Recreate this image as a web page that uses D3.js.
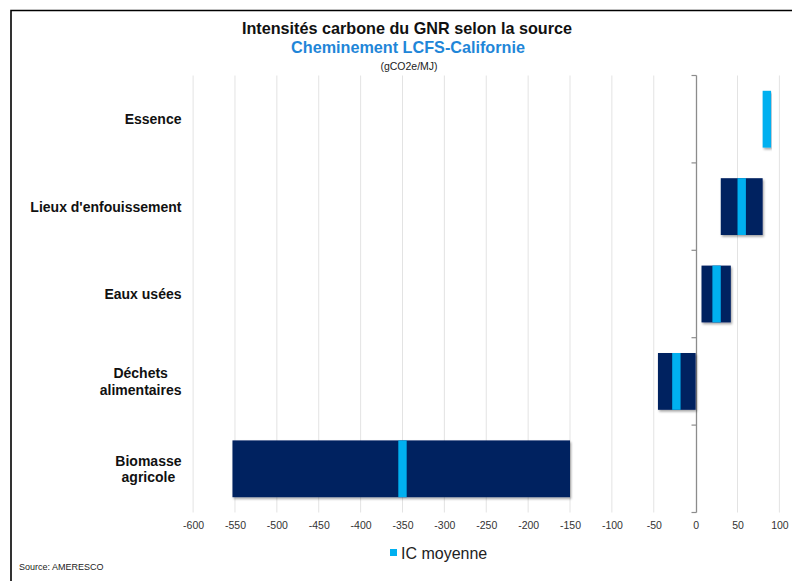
<!DOCTYPE html>
<html>
<head>
<meta charset="utf-8">
<script src="https://cdn.jsdelivr.net/npm/d3@7/dist/d3.min.js"></script>
<style>
  html, body { margin: 0; padding: 0; background: #fff; }
  svg { display: block; font-family: "Liberation Sans", Arial, sans-serif; }
</style>
</head>
<body>
<svg id="chart" width="792" height="581"></svg>
<script>
// Carbon intensity of RNG by feedstock (gCO2e/MJ)
const categories = ["Essence", "Lieux d'enfouissement", "Eaux usées", "Déchets alimentaires", "Biomasse agricole"];
const labelLines = [["Essence"], ["Lieux d'enfouissement"], ["Eaux usées"], ["Déchets", "alimentaires"], ["Biomasse", "agricole"]];
const minValues  = [85, 30, 7, -45, -553];
const maxValues  = [85, 80, 42, 0, -150];
const meanValues = [85, 55, 25, -23, -350];
const xTicks = [-600, -550, -500, -450, -400, -350, -300, -250, -200, -150, -100, -50, 0, 50, 100];
const meanHalfWidth = 5; // mean marker drawn as a 10-unit segment

const DARK = "#002060", LIGHT = "#00B0F0";

const svg = d3.select("#chart");

// Frame
svg.append("path")
  .attr("d", "M11,581 V10.5 H792")
  .attr("fill", "none").attr("stroke", "#000").attr("stroke-width", 1.6);

const defs = svg.append("defs");
const f = defs.append("filter").attr("id", "shadow")
  .attr("x", "-5%").attr("y", "-10%").attr("width", "115%").attr("height", "130%");
f.append("feDropShadow").attr("dx", 1.2).attr("dy", 1.8).attr("stdDeviation", 1)
  .attr("flood-color", "#000").attr("flood-opacity", 0.35);

// Titles
svg.append("text").attr("x", 407).attr("y", 34).attr("text-anchor", "middle")
  .attr("font-size", 16.2).attr("font-weight", "bold").attr("fill", "#111")
  .text("Intensités carbone du GNR selon la source");
svg.append("text").attr("x", 408).attr("y", 52.5).attr("text-anchor", "middle")
  .attr("font-size", 16.2).attr("font-weight", "bold").attr("fill", "#1F86D8")
  .text("Cheminement LCFS-Californie");
svg.append("text").attr("x", 409).attr("y", 69.5).attr("text-anchor", "middle")
  .attr("font-size", 10.5).attr("fill", "#222")
  .text("(gCO2e/MJ)");

// Scales
const x = d3.scaleLinear().domain([-600, 100]).range([193.1, 779.4]);
const y = d3.scaleBand().domain(categories).range([75.5, 512.5])
  .paddingInner(0.35).paddingOuter(0.175);

const plotTop = 75.5, plotBottom = 512.5;

// Vertical gridlines
svg.append("g").selectAll("line")
  .data(xTicks.filter(t => t !== 0))
  .join("line")
  .attr("x1", d => x(d)).attr("x2", d => x(d))
  .attr("y1", plotTop).attr("y2", plotBottom)
  .attr("stroke", "#e3e3e3").attr("stroke-width", 1);

// X tick labels (plain hyphen for negatives)
const xAxis = d3.axisBottom(x).tickValues(xTicks).tickSize(0).tickPadding(0).tickFormat(d => String(d));
const gx = svg.append("g").attr("transform", `translate(0,${plotBottom + 16})`).call(xAxis);
gx.select(".domain").remove();
gx.selectAll("text").attr("font-size", 10.5).attr("fill", "#333")
  .attr("font-family", "Liberation Sans, Arial, sans-serif").attr("dy", "0");

// Category axis on the zero line, ticks at band boundaries
const zx = Math.round(x(0)) + 0.5;
svg.append("line").attr("x1", zx).attr("x2", zx).attr("y1", plotTop).attr("y2", plotBottom)
  .attr("stroke", "#8c8c8c").attr("stroke-width", 1.3);
const step = y.step();
const boundaries = d3.range(categories.length + 1).map(i => plotTop + i * step);
svg.append("g").selectAll("line").data(boundaries).join("line")
  .attr("x1", zx - 5).attr("x2", zx).attr("y1", d => d).attr("y2", d => d)
  .attr("stroke", "#8c8c8c").attr("stroke-width", 1.2);

// Bars
const rows = categories.map((c, i) => ({ c, min: minValues[i], max: maxValues[i], mean: meanValues[i] }));
const gb = svg.append("g");
gb.selectAll("rect.range").data(rows.filter(d => d.max > d.min)).join("rect")
  .attr("class", "range")
  .attr("x", d => x(d.min)).attr("width", d => x(d.max) - x(d.min))
  .attr("y", d => y(d.c)).attr("height", y.bandwidth())
  .attr("fill", DARK).attr("filter", "url(#shadow)");
gb.selectAll("rect.mean").data(rows).join("rect")
  .attr("class", "mean")
  .attr("x", d => x(d.mean - meanHalfWidth)).attr("width", d => x(d.mean + meanHalfWidth) - x(d.mean - meanHalfWidth))
  .attr("y", d => y(d.c)).attr("height", y.bandwidth())
  .attr("fill", LIGHT)
  .attr("filter", d => d.max > d.min ? null : "url(#shadow)");

// Category labels: block right-aligned, lines centred within the block
const labelRight = 181.5;
const lineH = 16.5;
categories.forEach((c, i) => {
  const lines = labelLines[i];
  const cy = y(c) + y.bandwidth() / 2;
  const t = svg.append("text").attr("font-size", 14).attr("font-weight", "bold").attr("fill", "#111")
    .attr("text-anchor", "middle");
  const spans = lines.map((l, k) => t.append("tspan").text(l)
    .attr("y", cy + (k - (lines.length - 1) / 2) * lineH + 5));
  const maxW = d3.max(spans, s => s.node().getComputedTextLength());
  spans.forEach(s => s.attr("x", labelRight - maxW / 2));
});

// Legend
svg.append("rect").attr("x", 390).attr("y", 549).attr("width", 7).attr("height", 7).attr("fill", LIGHT);
svg.append("text").attr("x", 401).attr("y", 558.5).attr("font-size", 16).attr("fill", "#222")
  .text("IC moyenne");

// Source
svg.append("text").attr("x", 19).attr("y", 570).attr("font-size", 9).attr("fill", "#222")
  .text("Source: AMERESCO");
</script>
</body>
</html>
